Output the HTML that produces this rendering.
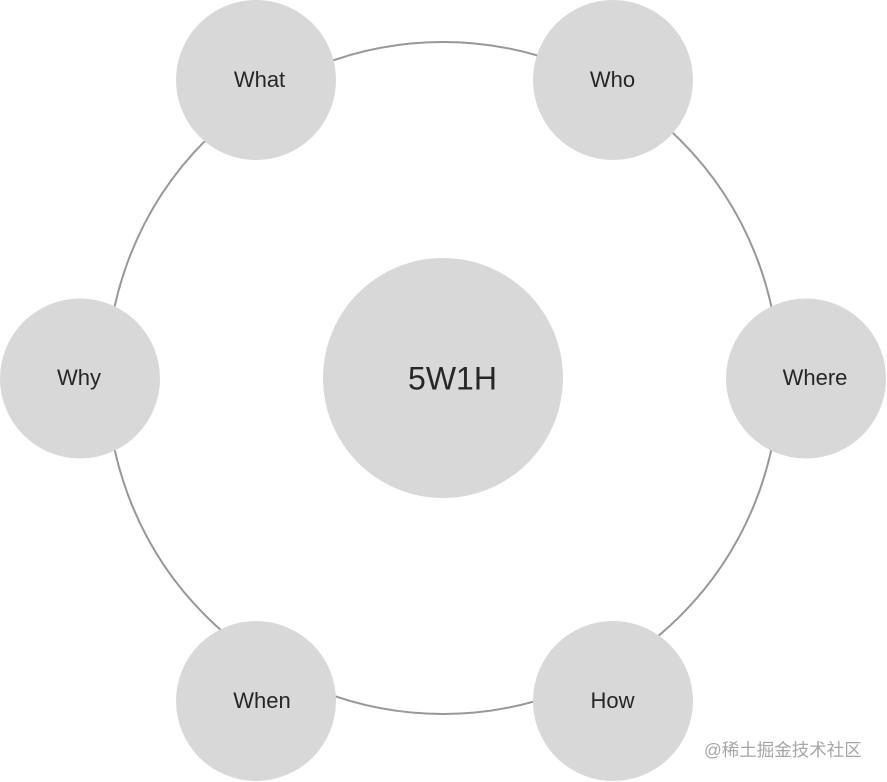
<!DOCTYPE html>
<html>
<head>
<meta charset="utf-8">
<style>
html,body{margin:0;padding:0;background:#fff;width:887px;height:782px;overflow:hidden}
svg{display:block}
text{font-family:"Liberation Sans","Noto Sans CJK SC",sans-serif;fill:#262626}
</style>
</head>
<body>
<svg width="887" height="782" viewBox="0 0 887 782" xmlns="http://www.w3.org/2000/svg">
<rect width="887" height="782" fill="#fff"/>
<circle cx="443" cy="378" r="336" fill="none" stroke="#979797" stroke-width="2"/>
<g fill="#d8d8d8">
<circle cx="256" cy="80" r="80"/>
<circle cx="613" cy="80" r="80"/>
<circle cx="806" cy="378.500" r="80"/>
<circle cx="613" cy="701" r="80"/>
<circle cx="256" cy="701" r="80"/>
<circle cx="80" cy="378.500" r="80"/>
<circle cx="443" cy="378" r="120"/>
</g>
<g font-size="22" text-anchor="middle">
<text x="259.500" y="87">What</text>
<text x="612.500" y="87">Who</text>
<text x="815" y="385">Where</text>
<text x="612.500" y="708">How</text>
<text x="262" y="708">When</text>
<text x="79" y="385">Why</text>
</g>
<text x="452.500" y="389.500" font-size="32" text-anchor="middle">5W1H</text>
<text x="704" y="756" font-size="17.500" style="fill:#a6a6a6">@稀土掘金技术社区</text>
</svg>
</body>
</html>
